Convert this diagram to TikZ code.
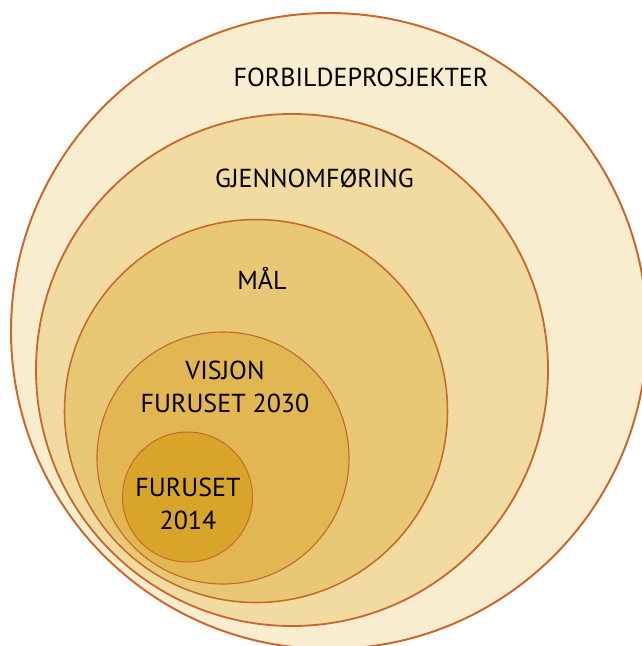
\documentclass[tikz,border=0pt]{standalone}
\usepackage{fontspec}
\setmainfont{PT Sans}
\usetikzlibrary{calc}

\definecolor{ringline}{HTML}{C8682C}
\definecolor{ringA}{HTML}{F9EDCF}
\definecolor{ringB}{HTML}{F2DBA0}
\definecolor{ringC}{HTML}{E8C874}
\definecolor{ringD}{HTML}{E2B650}
\definecolor{ringE}{HTML}{D8A52A}

\begin{document}
\begin{tikzpicture}[
         x=0.025cm, y=0.025cm,
         ring/.style = {draw=ringline, line width=#1},
         ringlabel/.style = {anchor=base, align=center, text=black,
            font=\fontsize{18.5}{23}\selectfont}
]

   \clip (0,0) rectangle (642,-646);

   % circle centres
   \coordinate (cA) at (329,-331);
   \coordinate (cB) at (292,-370);
   \coordinate (cC) at (256,-411);
   \coordinate (cD) at (223,-458);
   \coordinate (cE) at (187.5,-497);

   % nested rings, outside in
   \filldraw[fill=ringA, ring=1.4pt] (cA) circle (318);
   \filldraw[fill=ringB, ring=1.3pt] (cB) circle (256);
   \filldraw[fill=ringC, ring=1.1pt] (cC) circle (191.5);
   \filldraw[fill=ringD, ring=0.8pt] (cD) circle (126);
   \filldraw[fill=ringE, ring=0.7pt] (cE) circle (65);

   % labels (base = last line)
   \node[ringlabel] (forbilde) at (361,-86)    {FORBILDEPROSJEKTER};
   \node[ringlabel] (gjennom)  at (314.5,-187) {GJENNOMFØRING};
   \node[ringlabel] (maal)     at (262,-289)   {MÅL};
   \node[ringlabel] (visjon)   at (225,-412)   {VISJON\\FURUSET 2030};
   \node[ringlabel] (furuset)  at (188,-529)   {FURUSET\\2014};

\end{tikzpicture}
\end{document}
